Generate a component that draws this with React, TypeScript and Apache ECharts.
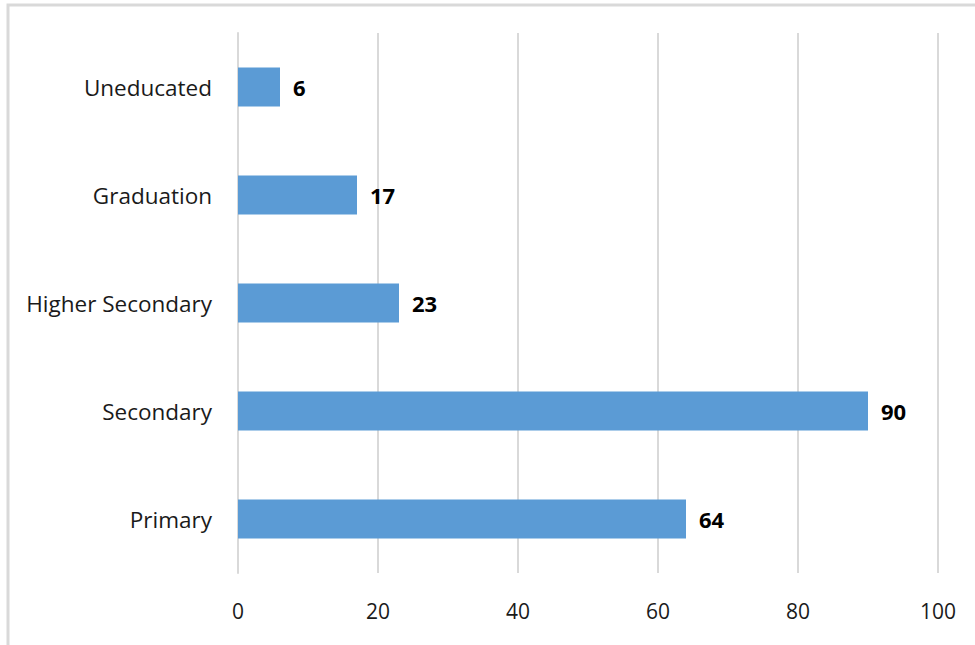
import React, { useEffect, useRef } from "react";
import * as echarts from "echarts";

const categories = ["Primary", "Secondary", "Higher Secondary", "Graduation", "Uneducated"];
const values = [64, 90, 23, 17, 6];
const xTicks = [0, 20, 40, 60, 80, 100];

export default function App() {
  const ref = useRef<HTMLDivElement>(null);
  useEffect(() => {
    const chart = echarts.init(ref.current!, null, { renderer: "svg" });
    chart.setOption({
      animation: false,
      backgroundColor: "#ffffff",
      textStyle: { fontFamily: "Open Sans" },
      graphic: [
        {
          type: "rect",
          shape: { x: 8, y: 5, width: 1000, height: 700 },
          style: { fill: "none", stroke: "#D9D9D9", lineWidth: 3 },
          z: -1,
          silent: true,
        },
      ],
      grid: { left: 238, right: 37, top: 33, bottom: 72, containLabel: false },
      xAxis: {
        type: "value",
        min: xTicks[0],
        max: xTicks[xTicks.length - 1],
        interval: 20,
        axisLine: { show: false },
        axisTick: { show: false },
        splitLine: { show: true, lineStyle: { color: "#D9D9D9", width: 2 } },
        axisLabel: { color: "#1a1a1a", fontSize: 21, margin: 27, fontFamily: "Open Sans" },
      },
      yAxis: {
        type: "category",
        data: categories,
        axisLine: { show: true, lineStyle: { color: "#D9D9D9", width: 2 } },
        axisTick: { show: false },
        axisLabel: { color: "#1a1a1a", fontSize: 22.5, margin: 26, fontFamily: "Open Sans" },
      },
      series: [
        {
          type: "bar",
          data: values,
          barWidth: 39,
          itemStyle: { color: "#5B9BD5" },
          label: {
            show: true,
            position: "right",
            distance: 13,
            color: "#000000",
            fontSize: 22,
            fontWeight: "bold",
            fontFamily: "Open Sans",
          },
        },
      ],
    });
    return () => chart.dispose();
  }, []);
  return (
    <div
      ref={ref}
      style={{ position: "fixed", left: 0, top: 0, width: 975, height: 645 }}
    />
  );
}
